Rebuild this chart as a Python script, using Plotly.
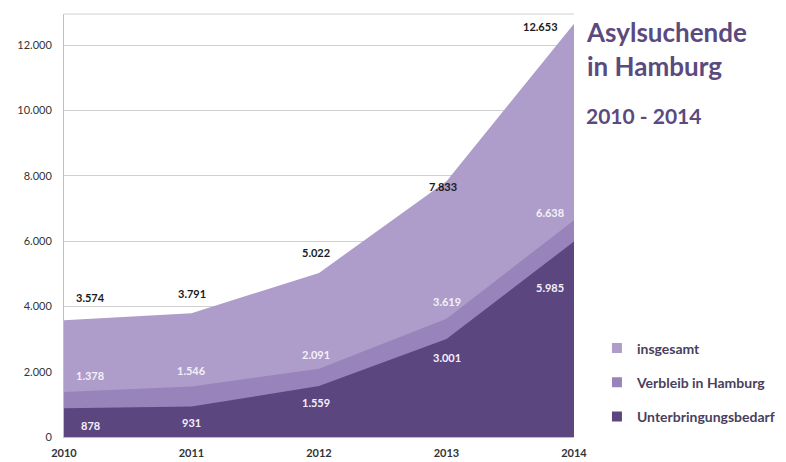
import plotly.graph_objects as go

years = [2010, 2011, 2012, 2013, 2014]
insgesamt = [3574, 3791, 5022, 7833, 12653]
verbleib = [1378, 1546, 2091, 3619, 6638]
unterbringung = [878, 931, 1559, 3001, 5985]
series_names = ["insgesamt", "Verbleib in Hamburg", "Unterbringungsbedarf"]
y_ticks = [0, 2000, 4000, 6000, 8000, 10000, 12000]

colors = ["#ae9dca", "#9883bb", "#5c4680"]
FONT = "Lato"

fig = go.Figure()
for i, (name, vals) in enumerate(zip(series_names, [insgesamt, verbleib, unterbringung])):
    fig.add_trace(go.Scatter(
        x=years, y=vals, name=name, mode="lines", fill="tozeroy",
        line=dict(width=0, color=colors[i]), fillcolor=colors[i],
        legendgroup=name, showlegend=False, hoverinfo="x+y+name",
    ))
# legend entries with square markers
for i, name in enumerate(series_names):
    fig.add_trace(go.Scatter(
        x=[None], y=[None], name=f"<b>{name}</b>", mode="markers",
        marker=dict(symbol="square", size=10, color=colors[i]),
        legendgroup=name, showlegend=True,
    ))

def fmt(v):
    return f"{v:,}".replace(",", ".")

# label offsets (style): (xshift, yshift) per point
off_total = [(26, 23), (0, 20), (-3, 20), (-4, -5), (-34, -3)]
off_verb = [(26, 16), (0, 16), (-3, 14), (0, 17), (-24, 8)]
off_unt = [(26, -17), (0, -16), (-3, -16), (0, -19), (-24, -46)]

for vals, offs, col in [(insgesamt, off_total, "#1a1a1a"),
                        (verbleib, off_verb, "#f4f0fa"),
                        (unterbringung, off_unt, "#f4f0fa")]:
    for x, v, (dx, dy) in zip(years, vals, offs):
        fig.add_annotation(x=x, y=v, text=f"<b>{fmt(v)}</b>", showarrow=False,
                           xshift=dx, yshift=dy, font=dict(family=FONT, size=11, color=col))

fig.add_annotation(xref="paper", yref="paper", x=1.02, y=1.0, xanchor="left", yanchor="top",
                   text="<b>Asylsuchende<br>in Hamburg</b>", showarrow=False, align="left",
                   font=dict(family=FONT, size=26, color="#5b4a7e"))
fig.add_annotation(xref="paper", yref="paper", x=1.02, y=0.795, xanchor="left", yanchor="top",
                   text="<b>2010 - 2014</b>", showarrow=False, align="left",
                   font=dict(family=FONT, size=21, color="#5b4a7e"))

fig.add_shape(type="line", xref="paper", yref="paper", x0=0, x1=1, y0=1, y1=1,
              line=dict(color="#d0d0d0", width=1), layer="below")

fig.update_layout(
    width=786, height=462,
    margin=dict(l=64, r=212, t=14, b=25, autoexpand=False),
    paper_bgcolor="white", plot_bgcolor="white",
    separators=",.",
    showlegend=True,
    legend=dict(x=1.045, y=0.247, xanchor="left", yanchor="top",
                font=dict(family=FONT, size=14, color="#4a3f5e"),
                tracegroupgap=13, bgcolor="rgba(0,0,0,0)",
                itemwidth=30),
    xaxis=dict(range=[2010, 2014], tickvals=years, ticktext=[f"<b>{y}</b>" for y in years],
               showgrid=False, showline=True, linecolor="#bfbfbf", ticks="",
               ticklabelstandoff=6,
               tickfont=dict(family=FONT, size=11, color="#333333"), zeroline=False),
    yaxis=dict(range=[0, 12950], tickvals=y_ticks, tickformat=",d",
               showgrid=True, gridcolor="#d0d0d0", showline=True, linecolor="#bfbfbf",
               ticks="", zeroline=False, ticklabelstandoff=9,
               tickfont=dict(family=FONT, size=11, color="#333333")),
)

fig.write_html("out.html")
